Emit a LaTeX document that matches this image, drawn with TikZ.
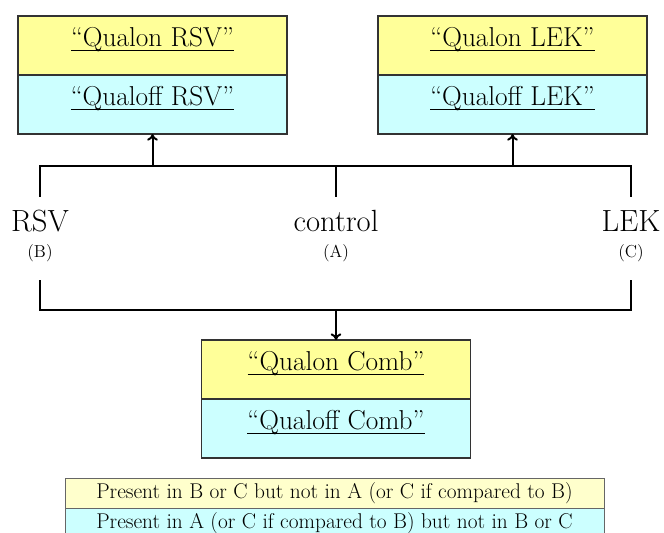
\documentclass[tikz,border=0pt]{standalone}
\usepackage{fontspec}
\usepackage{amsmath}
\usepackage{tikz}
\usetikzlibrary{positioning,arrows.meta}

\definecolor{qon}{HTML}{FFFF99}
\definecolor{qoff}{HTML}{CCFFFF}
\definecolor{legon}{HTML}{FFFFCC}

% underline sitting close to the baseline
\newcommand{\uln}[1]{\underline{\smash[b]{#1}}}

\begin{document}
\begin{tikzpicture}[
      x=0.75pt, y=-0.75pt,
      half/.style={draw=black!80, line width=0.8pt, outer sep=0pt, inner sep=0pt,
                   minimum width=201.75pt, minimum height=44.25pt, text depth=13pt,
                   font=\fontsize{20.5}{24}\selectfont},
      qualon/.style={half, fill=qon},
      qualoff/.style={half, fill=qoff},
      key/.style={draw=black!60, line width=0.6pt, outer sep=0pt, inner sep=0pt,
                  minimum width=404.25pt, minimum height=22.5pt,
                  font=\fontsize{16}{18}\selectfont},
      lbl/.style={font=\fontsize{23}{27}\selectfont, inner xsep=0pt, inner ysep=9.5pt},
      sub/.style={font=\fontsize{13}{15}\selectfont, inner xsep=0pt, inner ysep=14pt},
      wire/.style={line width=1.5pt},
      arr/.style={wire, -{To[length=5pt,width=8pt]}},
    ]
    \useasboundingbox (0,0) rectangle (664,532);
    % the two comparison boxes on top
    \node[qualon] (rsvon) at (152.5,45.5) {\uln{``Qualon RSV''}};
    \node[qualoff, below=0pt of rsvon] (rsvoff) {\uln{``Qualoff RSV''}};
    \node[qualon, right=68.25pt of rsvon] (lekon) {\uln{``Qualon LEK''}};
    \node[qualoff, below=0pt of lekon] (lekoff) {\uln{``Qualoff LEK''}};
    % the three samples
    \node[lbl, anchor=base] (rsv) at (40,231) {RSV};
    \node[lbl, anchor=base] (ctrl) at (336,231) {control};
    \node[lbl, anchor=base] (lek) at (631,231) {LEK};
    \node[sub, anchor=base] (rsvsub) at (40,257) {(B)};
    \node[sub, anchor=base] (ctrlsub) at (336,257) {(A)};
    \node[sub, anchor=base] (leksub) at (631,257) {(C)};
    % combined box underneath
    \node[qualon] (combon) at (336,369.5) {\uln{``Qualon Comb''}};
    \node[qualoff, below=0pt of combon] (comboff) {\uln{``Qualoff Comb''}};
    % colour key
    \node[key, fill=legon] (keyon) at (334.5,493) {Present in B or C but not in A (or C if compared to B)};
    \node[key, fill=qoff, below=0pt of keyon] (keyoff) {Present in A (or C if compared to B) but not in B or C};
    % brackets
    \coordinate (topbar) at (336,166);
    \coordinate (botbar) at (336,310);
    \draw[wire] (rsv.north) |- (topbar) -| (lek.north);
    \draw[wire] (ctrl.north) -- (topbar);
    \draw[arr] (rsvoff.south |- topbar) -- (rsvoff.south);
    \draw[arr] (lekoff.south |- topbar) -- (lekoff.south);
    \draw[wire] (rsvsub.south) |- (botbar) -| (leksub.south);
    \draw[arr] (botbar) -- (combon.north);
  \end{tikzpicture}
\end{document}
